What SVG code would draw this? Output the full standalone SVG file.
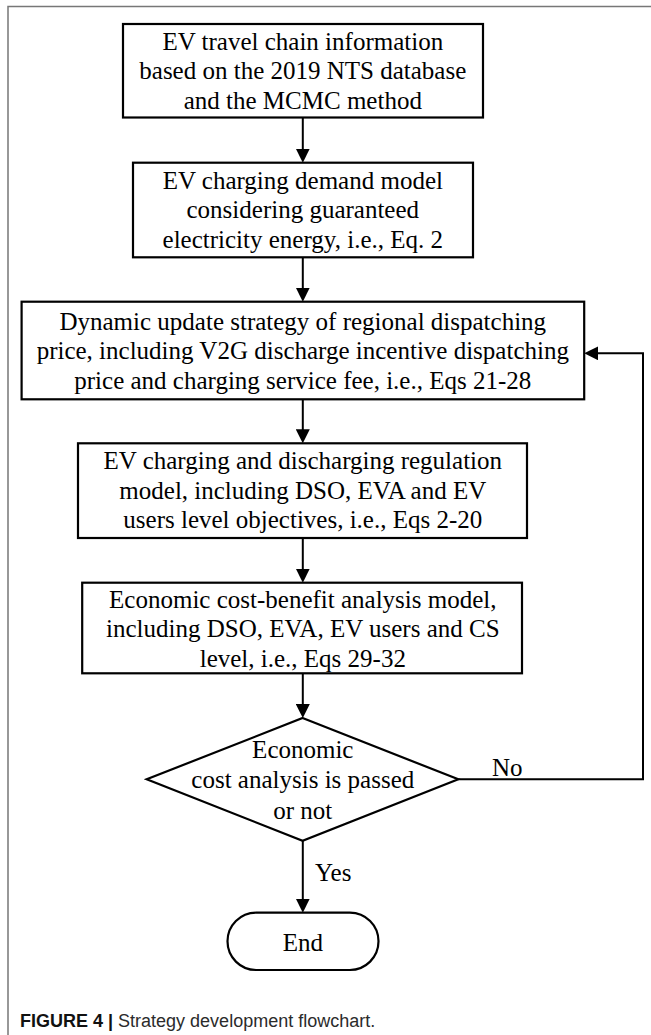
<svg xmlns="http://www.w3.org/2000/svg" width="651" height="1035" viewBox="0 0 651 1035">
<style>
.box{fill:#fff;stroke:#000;stroke-width:2.2}
.t{font-family:"Liberation Serif","Times New Roman",serif;font-size:25px;fill:#000;text-anchor:middle}
.lbl{font-family:"Liberation Serif","Times New Roman",serif;font-size:25px;fill:#000}
.c{fill:none;stroke:#000;stroke-width:2}
.cap{font-family:"Liberation Sans",Arial,sans-serif;font-size:18px;fill:#2b2b2b}
</style>
<defs>
<marker id="ah" markerUnits="userSpaceOnUse" markerWidth="14" markerHeight="14" viewBox="0 0 14 14" refX="2" refY="7" orient="auto">
<path d="M0,0 L14,7 L0,14 z" fill="#000"/>
</marker>
</defs>
<rect width="651" height="1035" fill="#fff"/>
<path d="M8,1035 V6.5 H651" fill="none" stroke="#777" stroke-width="1.5"/>

<g id="connectors">
<line class="c" x1="302.8" y1="117.5" x2="302.8" y2="150.7" marker-end="url(#ah)"/>
<line class="c" x1="302.8" y1="257.3" x2="302.8" y2="289.7" marker-end="url(#ah)"/>
<line class="c" x1="302.8" y1="399.3" x2="302.8" y2="431.3" marker-end="url(#ah)"/>
<line class="c" x1="302.8" y1="538" x2="302.8" y2="570.7" marker-end="url(#ah)"/>
<line class="c" x1="302.8" y1="673.3" x2="302.8" y2="706" marker-end="url(#ah)"/>
<line class="c" x1="302.8" y1="840.7" x2="302.8" y2="900.7" marker-end="url(#ah)"/>
<path class="c" d="M458.3,779.3 H643 V353.3 H596.2" marker-end="url(#ah)"/>
<text class="lbl" x="492" y="776">No</text>
<text class="lbl" x="315" y="881">Yes</text>
</g>

<g id="node1">
<rect class="box" x="123" y="24" width="360" height="93.5"/>
<text class="t" x="302.8" y="49.5">EV travel chain information</text>
<text class="t" x="302.8" y="79">based on the 2019 NTS database</text>
<text class="t" x="302.8" y="108.5">and the MCMC method</text>
</g>

<g id="node2">
<rect class="box" x="133" y="162.7" width="340" height="94.6"/>
<text class="t" x="302.8" y="188.5">EV charging demand model</text>
<text class="t" x="302.8" y="218">considering guaranteed</text>
<text class="t" x="302.8" y="247.5">electricity energy, i.e., Eq. 2</text>
</g>

<g id="node3">
<rect class="box" x="21.6" y="301.7" width="562.6" height="97.6"/>
<text class="t" x="302.8" y="329.5">Dynamic update strategy of regional dispatching</text>
<text class="t" x="302.8" y="358.5">price, including V2G discharge incentive dispatching</text>
<text class="t" x="302.8" y="388.5">price and charging service fee, i.e., Eqs 21-28</text>
</g>

<g id="node4">
<rect class="box" x="78" y="443.3" width="449" height="94.7"/>
<text class="t" x="302.8" y="469">EV charging and discharging regulation</text>
<text class="t" x="302.8" y="498.7">model, including DSO, EVA and EV</text>
<text class="t" x="302.8" y="528.4">users level objectives, i.e., Eqs 2-20</text>
</g>

<g id="node5">
<rect class="box" x="82.2" y="582.7" width="439.8" height="90.6"/>
<text class="t" x="302.8" y="607.5">Economic cost-benefit analysis model,</text>
<text class="t" x="302.8" y="637">including DSO, EVA, EV users and CS</text>
<text class="t" x="302.8" y="666.5">level, i.e., Eqs 29-32</text>
</g>

<g id="decision">
<polygon class="box" points="302.6,718 458.3,779.3 302.6,840.7 146.7,779.3"/>
<text class="t" x="302.8" y="758">Economic</text>
<text class="t" x="302.8" y="788">cost analysis is passed</text>
<text class="t" x="302.8" y="818.5">or not</text>
</g>

<g id="end">
<rect class="box" x="227.5" y="912.7" width="151" height="57.3" rx="28.65" ry="28.65"/>
<text class="t" x="302.8" y="950.5">End</text>
</g>

<text class="cap" x="20" y="1027"><tspan font-weight="bold" fill="#111">FIGURE 4 | </tspan>Strategy development flowchart.</text>
</svg>
